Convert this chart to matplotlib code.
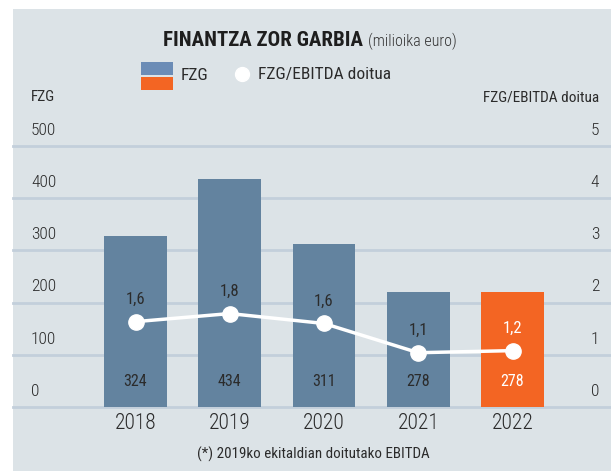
import matplotlib
matplotlib.use('Agg')
import matplotlib.pyplot as plt
from matplotlib.patches import Rectangle

plt.rcParams['font.family'] = ['Roboto Condensed', 'DejaVu Sans']

years = ['2018', '2019', '2020', '2021', '2022']
fzg = [327, 436, 313, 221, 221]
fzg_labels = ['324', '434', '311', '278', '278']
ratio = [1.635, 1.79, 1.6, 1.04, 1.08]
ratio_labels = ['1,6', '1,8', '1,6', '1,1', '1,2']
left_ticks = [0, 100, 200, 300, 400, 500]
right_ticks = [0, 1, 2, 3, 4, 5]

BG = '#dce3e7'
BLUE = '#63839f'
ORANGE = '#f36523'
GRID = '#c3cfdb'
TXT = '#2b2b2b'

W, H = 611, 471
fig = plt.figure(figsize=(W / 100, H / 100), dpi=100, facecolor='white')
fig.patches.append(Rectangle((13 / W, 0), 1 - 13 / W, 1 - 9 / H, transform=fig.transFigure,
                             facecolor=BG, edgecolor='none', zorder=-10))

# plot area: value 0 at y=407px, 500 at y=146px
ax = fig.add_axes([13 / W, (H - 407) / H, 1 - 13 / W, (407 - 146) / H])
ax.set_facecolor('none')
ax.set_ylim(0, 500)
x = list(range(len(years)))
ax.set_xlim(-1.30, 5.045)
for s in ax.spines.values():
    s.set_visible(False)
ax.set_xticks([])
ax.set_yticks([])
for v in left_ticks:
    ax.axhline(v, color=GRID, lw=2, zorder=1, clip_on=False)
    ax.text(18 / (W - 13), v + 30, str(v), transform=ax.get_yaxis_transform(),
            ha='left', va='center', fontsize=12.5, fontweight='light', color=TXT)

colors = [BLUE, BLUE, BLUE, BLUE, ORANGE]
ax.bar(x, fzg, width=0.668, color=colors, zorder=2)
for i, lab in enumerate(fzg_labels):
    ax.text(i, 48, lab, ha='center', va='center', fontsize=11.5,
            color='white' if i == 4 else TXT, zorder=5)
for i, y in enumerate(years):
    ax.text(i, -32, y, ha='center', va='center', fontsize=15.5, fontweight='light', color=TXT)

ax2 = ax.twinx()
ax2.set_ylim(0, 5)
ax2.set_xlim(ax.get_xlim())
for s in ax2.spines.values():
    s.set_visible(False)
ax2.set_yticks([])
for v in right_ticks:
    ax2.text(1 - 12 / (W - 13), v + 0.3, str(v), transform=ax2.get_yaxis_transform(),
             ha='right', va='center', fontsize=12.5, fontweight='light', color=TXT)
ax2.plot(x, ratio, color='white', lw=2.5, marker='o', markersize=11,
         markerfacecolor='white', markeredgecolor='white', zorder=4)
for i, lab in enumerate(ratio_labels):
    ax2.text(i, ratio[i] + 0.43, lab, ha='center', va='center', fontsize=12,
             color='white' if i == 4 else TXT, zorder=5)

# titles and legend
fig.text(363 / W, 1 - 40 / H, 'FINANTZA ZOR GARBIA', ha='right', va='center',
         fontsize=15, fontweight='bold', color='#1e1e1e')
fig.text(368 / W, 1 - 41 / H, '(milioika euro)', ha='left', va='center',
         fontsize=11.5, fontweight='light', color='#333333')
fig.patches.append(Rectangle((141 / W, 1 - 75 / H), 32 / W, 13 / H, transform=fig.transFigure,
                             facecolor='#6b8cb6', edgecolor='none'))
fig.patches.append(Rectangle((141 / W, 1 - 90 / H), 32 / W, 13 / H, transform=fig.transFigure,
                             facecolor=ORANGE, edgecolor='none'))
fig.text(181 / W, 1 - 75 / H, 'FZG', ha='left', va='center', fontsize=12.5, color=TXT)
fig.add_artist(plt.Line2D([242 / W], [1 - 74 / H], marker='o', markersize=10, color='white',
                          transform=fig.transFigure))
fig.text(258 / W, 1 - 75 / H, 'FZG/EBITDA doitua', ha='left', va='center', fontsize=12.5, color=TXT)
fig.text(31 / W, 1 - 97 / H, 'FZG', ha='left', va='center', fontsize=11, color=TXT)
fig.text(599 / W, 1 - 97 / H, 'FZG/EBITDA doitua', ha='right', va='center', fontsize=11, color=TXT)
fig.text(313 / W, 1 - 454 / H, '(*) 2019ko ekitaldian doitutako EBITDA', ha='center', va='center',
         fontsize=10.8, color=TXT)

fig.savefig('out.png', dpi=100)
